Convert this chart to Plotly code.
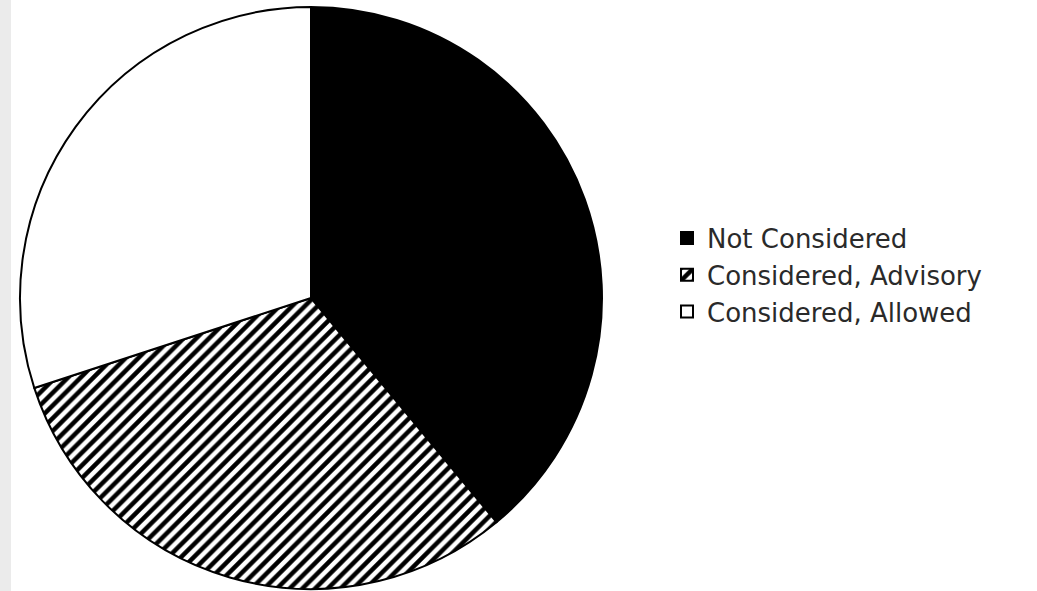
import plotly.graph_objects as go

labels = ["Not Considered", "Considered, Advisory", "Considered, Allowed"]
values = [39, 31, 30]
colors = ["black", "white", "white"]
patterns = ["", "/", ""]

W, H = 1037, 591
cx, cy, r = 311, 298, 291

fig = go.Figure(go.Pie(
    labels=labels, values=values, sort=False, direction="clockwise", rotation=0,
    textinfo="none", hoverinfo="label+percent",
    marker=dict(colors=colors, line=dict(color="black", width=2),
                pattern=dict(shape=patterns, fgcolor="black", bgcolor="white",
                             size=9, solidity=0.5)),
    domain=dict(x=[(cx - r) / W, (cx + r) / W], y=[(H - cy - r) / H, (H - cy + r) / H]),
))

fig.update_layout(
    width=W, height=H, margin=dict(l=0, r=0, t=0, b=0, autoexpand=False),
    paper_bgcolor="white", plot_bgcolor="white",
    showlegend=True,
    legend=dict(xref="container", yref="container", x=667 / W, y=1 - 275 / H,
                xanchor="left", yanchor="middle",
                font=dict(family="DejaVu Sans", size=26, color="#2a2a2a"),
                itemclick=False, itemdoubleclick=False),
    shapes=[dict(type="rect", xref="paper", yref="paper", x0=0, x1=11 / W, y0=0, y1=1,
                 fillcolor="#ebebeb", line=dict(width=0), layer="below")],
)

fig.write_html("out.html")
